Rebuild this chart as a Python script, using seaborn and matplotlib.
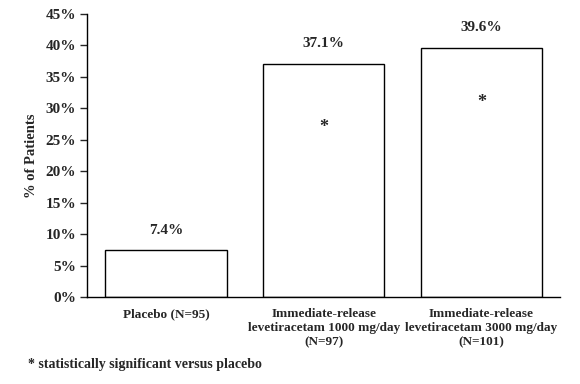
import matplotlib
matplotlib.use("Agg")
import matplotlib.pyplot as plt
import seaborn as sns
import pandas as pd

categories = ["Placebo (N=95)",
              "Immediate-release\nlevetiracetam 1000 mg/day\n(N=97)",
              "Immediate-release\nlevetiracetam 3000 mg/day\n(N=101)"]
values = [7.4, 37.1, 39.6]
value_labels = ["7.4%", "37.1%", "39.6%"]
significant = [False, True, True]
yticks = [0, 5, 10, 15, 20, 25, 30, 35, 40, 45]
ytick_labels = ["0%", "5%", "10%", "15%", "20%", "25%", "30%", "35%", "40%", "45%"]

sns.set_style("white")
plt.rcParams["font.family"] = ["Liberation Serif", "DejaVu Serif"]
plt.rcParams["font.weight"] = "bold"

df = pd.DataFrame({"cat": categories, "val": values})

fig = plt.figure(figsize=(5.8, 3.84), dpi=100)
ax = fig.add_axes([0.15, 0.2266, 0.816, 0.737])
sns.barplot(data=df, x="cat", y="val", ax=ax, color="white", edgecolor="black",
            linewidth=1.0, width=0.77, saturation=1)
ax.set_xlim(-0.5, 2.5)
ax.set_ylim(0, 45)
ax.set_yticks(yticks)
ax.set_yticklabels(ytick_labels, fontsize=11, fontweight="bold")
ax.tick_params(axis="y", direction="out", length=5, width=1, left=True, pad=3)
ax.tick_params(axis="x", length=0, pad=8)
for lab in ax.get_xticklabels():
    lab.set_fontsize(9.5)
    lab.set_fontweight("bold")
    lab.set_linespacing(1.25)
ax.set_xlabel("")
ax.set_ylabel("% of Patients", fontsize=10.5, fontweight="bold", labelpad=5)
for s in ["top", "right"]:
    ax.spines[s].set_visible(False)
for s in ["left", "bottom"]:
    ax.spines[s].set_color("black")
    ax.spines[s].set_linewidth(1.0)

star_drop = [0, 10.2, 8.6]
for i, (v, lab, sig) in enumerate(zip(values, value_labels, significant)):
    ax.annotate(lab, (i, v), xytext=(0, 10), textcoords="offset points",
                ha="center", va="bottom", fontsize=11, fontweight="bold")
    if sig:
        ax.text(i, v - star_drop[i], "*", ha="center", va="center", fontsize=13,
                fontweight="bold")

fig.text(0.048, 0.05, "* statistically significant versus placebo",
         fontsize=10, fontweight="bold", ha="left", va="center")

fig.savefig("out.png", dpi=100)
